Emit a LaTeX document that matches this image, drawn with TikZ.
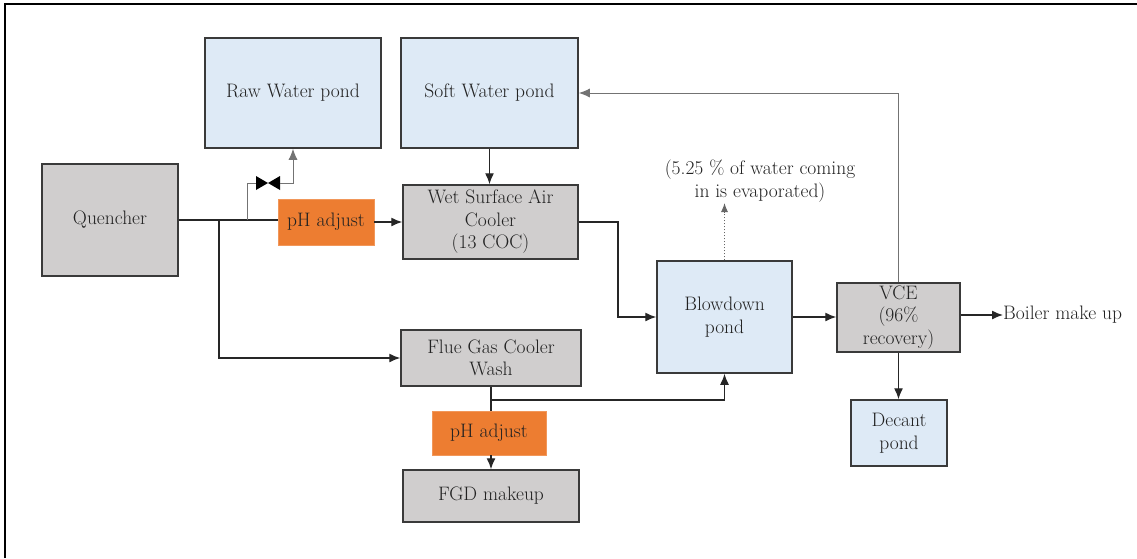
\documentclass[tikz,border=0pt]{standalone}
\usetikzlibrary{arrows.meta}
\definecolor{pondblue}{HTML}{DEEAF6}
\definecolor{unitgray}{HTML}{D0CECE}
\definecolor{phorange}{HTML}{ED7D31}
\definecolor{edgegray}{HTML}{3A3A3A}
\definecolor{txt}{HTML}{222222}
\begin{document}
\begin{tikzpicture}[x=1pt,y=-1pt,
  every node/.style={font=\rmfamily\fontsize{19.5}{22.5}\selectfont, text=txt, align=center, inner sep=0pt},
  bluebox/.style={draw=edgegray, line width=1.5pt, fill=pondblue},
  graybox/.style={draw=edgegray, line width=1.5pt, fill=unitgray},
  phbox/.style={fill=phorange, draw=phorange!80!white, line width=0.6pt},
  flow/.style={draw=black!85, line width=1.3pt, -{Latex[length=11pt,width=9pt]}},
  plain/.style={draw=black!85, line width=1.3pt},
  thin/.style={draw=black!55, line width=1pt},
  thinflow/.style={draw=black!55, line width=1pt, -{Latex[length=11pt,width=9pt]}}
]
\useasboundingbox (0,0) rectangle (1137,558);
% frame
\draw[line width=2.6pt, black] (5,558) -- (5,4) -- (1137,4);

% nodes
\node[bluebox, minimum width=176pt, minimum height=110pt] (raw) at (293,93) {Raw Water pond};
\node[bluebox, minimum width=177pt, minimum height=110pt] (soft) at (489.5,93) {Soft Water pond};
\node[graybox, minimum width=136pt, minimum height=112pt] (quench) at (110,220) {Quencher};
\node[graybox, minimum width=175pt, minimum height=74pt] (wsac) at (490.5,222) {Wet Surface Air\\Cooler\\(13 COC)};
\node[phbox, minimum width=96pt, minimum height=46pt] (ph1) at (326,222) {pH adjust};
\node[bluebox, minimum width=135pt, minimum height=112pt] (blow) at (724.5,317) {Blowdown\\pond};
\node[graybox, minimum width=123pt, minimum height=69pt] (vce) at (898.5,317.5) {VCE\\(96\%\\recovery)};
\node[bluebox, minimum width=96pt, minimum height=66pt] (decant) at (899,433) {Decant\\pond};
\node[graybox, minimum width=180pt, minimum height=56pt] (fgcw) at (491,358) {Flue Gas Cooler\\Wash};
\node[phbox, minimum width=114pt, minimum height=44pt] (ph2) at (489,433) {pH adjust};
\node[graybox, minimum width=176pt, minimum height=52pt] (fgd) at (491,496) {FGD makeup};
\node[anchor=west] (boiler) at (1003,315) {Boiler make up};
\node (evap) at (760,181) {(5.25 \% of water coming\\in is evaporated)};

% junctions
\coordinate (j1) at (219,220);
\coordinate (j2) at (247,220);
\coordinate (valve) at (268,183);
\coordinate (j3) at (491,400);

% Quencher to pH adjust
\draw[plain] (quench.east) -- (quench.east -| ph1.west);
\draw[flow] (ph1.east) -- (ph1.east -| wsac.west);
\draw[flow] (j1) |- (fgcw.west);
% valve branch
\draw[thin] (j2) |- ([xshift=-12pt]valve);
\fill[black] ([xshift=-12pt,yshift=-7pt]valve) -- (valve) -- ([xshift=-12pt,yshift=7pt]valve) -- cycle;
\fill[black] ([xshift=12pt,yshift=-7pt]valve) -- (valve) -- ([xshift=12pt,yshift=7pt]valve) -- cycle;
\draw[thinflow] ([xshift=12pt]valve) -| (raw.south);
% soft to wsac
\draw[flow] (soft.south) -- (soft.south |- wsac.north);
% wsac to blowdown
\draw[flow] (wsac.east) -- (618,222) |- (blow.west);
% blowdown to vce
\draw[flow] (blow.east) -- (blow.east -| vce.west);
% evaporation
\draw[draw=black!60, line width=1pt, dotted, -{Latex[length=9pt,width=7pt]}] (blow.north) -- (724.5,203);
% vce recycle
\draw[thinflow] (vce.north) |- (soft.east);
% vce outputs
\draw[flow] (vce.east |- boiler.west) -- (boiler.west);
\draw[flow] (vce.south) -- (vce.south |- decant.north);
% flue gas cooler wash
\draw[plain] (fgcw.south) -- (fgcw.south |- ph2.north);
\draw[flow] (fgcw.south |- ph2.south) -- (fgcw.south |- fgd.north);
\draw[flow] (j3) -| (blow.south);
\end{tikzpicture}
\end{document}
